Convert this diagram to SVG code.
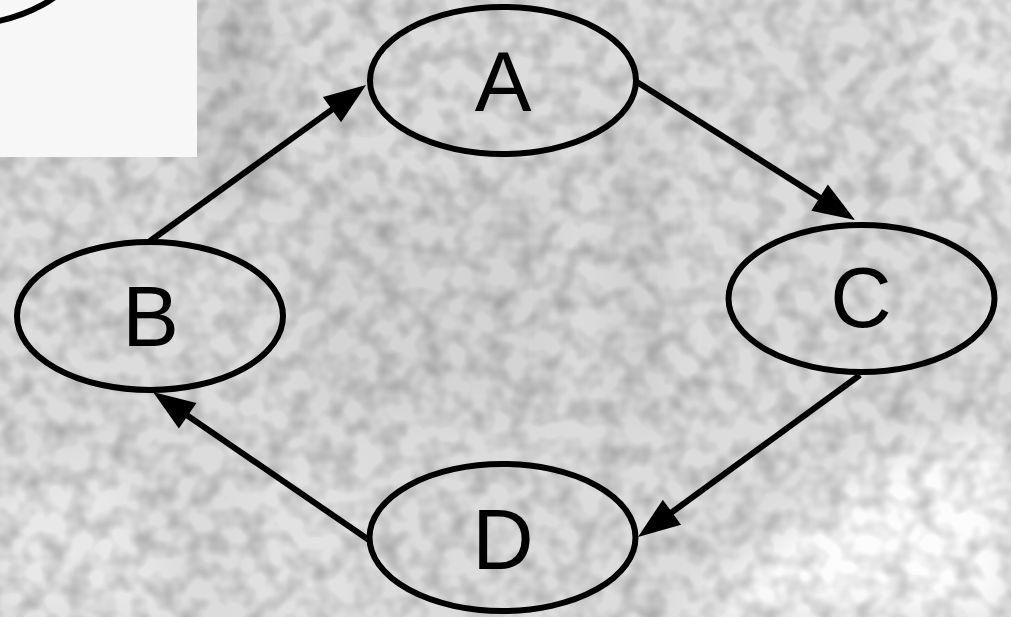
<svg xmlns="http://www.w3.org/2000/svg" width="1011" height="617" viewBox="0 0 1011 617">
  <defs>
    <filter id="noise" x="0" y="0" width="100%" height="100%">
      <feTurbulence type="fractalNoise" baseFrequency="0.045" numOctaves="2" seed="7" result="t"/>
      <feColorMatrix in="t" type="matrix" values="0 0 0 0 0  0 0 0 0 0  0 0 0 0 0  0.45 0 0 0 -0.17"/>
    </filter>
    <filter id="blur" x="-20%" y="-20%" width="140%" height="140%">
      <feGaussianBlur stdDeviation="18"/>
    </filter>
    <marker id="arrow" markerUnits="userSpaceOnUse" markerWidth="42" markerHeight="31" refX="30" refY="15.5" orient="auto" overflow="visible">
      <path d="M0,0 L42,15.5 L0,31 Z" fill="#000"/>
    </marker>
  </defs>
  <style>
    .node ellipse { fill: none; stroke: #000; stroke-width: 6; }
    .node text { font-family: "Liberation Sans", Arial, sans-serif; font-size: 85px; fill: #000; text-anchor: middle; }
    .edge { fill: none; stroke: #000; stroke-width: 6; marker-end: url(#arrow); }
  </style>

  <!-- background -->
  <g id="background">
    <rect x="0" y="0" width="1011" height="617" fill="#dcdcdc"/>
    <g filter="url(#blur)">
      <polygon points="700,600 880,460 1011,430 1011,617 680,617" fill="#fcfcfc"/>
      <polygon points="920,0 1011,0 1011,220 930,200" fill="#e8e8e8"/>
      <polygon points="0,480 120,470 180,617 0,617" fill="#e8e8e8"/>
      <polygon points="200,0 270,0 270,200 200,200" fill="#c8c8c8"/>
      <polygon points="610,120 660,120 660,420 610,420" fill="#d0d0d0"/>
      <polygon points="300,180 560,180 560,420 300,420" fill="#d4d4d4"/>
      <polygon points="250,470 360,470 360,617 250,617" fill="#e2e2e2"/>
    </g>
    <rect x="0" y="0" width="1011" height="617" filter="url(#noise)"/>
    <rect x="0" y="0" width="197" height="157" fill="#f7f7f7"/>
    <ellipse cx="-50" cy="-45" rx="130" ry="71" fill="none" stroke="#000" stroke-width="6"/>
  </g>

  <g id="connectors">
    <path class="edge" d="M150,241 L356.3,92"/>
    <path class="edge" d="M637,82 L844.9,213.6"/>
    <path class="edge" d="M860,375 L647.7,529.9"/>
    <path class="edge" d="M369,540 L162.9,398.8"/>
  </g>

  <g id="node-A" class="node">
    <ellipse cx="503" cy="80.5" rx="133" ry="73.5"/>
    <text x="503" y="111">A</text>
  </g>
  <g id="node-B" class="node">
    <ellipse cx="150" cy="316" rx="133" ry="74"/>
    <text x="150.5" y="346">B</text>
  </g>
  <g id="node-C" class="node">
    <ellipse cx="861.5" cy="298.5" rx="133" ry="73.5"/>
    <text x="861" y="327">C</text>
  </g>
  <g id="node-D" class="node">
    <ellipse cx="502.5" cy="537.5" rx="133" ry="73.5"/>
    <text x="503" y="569">D</text>
  </g>
</svg>
